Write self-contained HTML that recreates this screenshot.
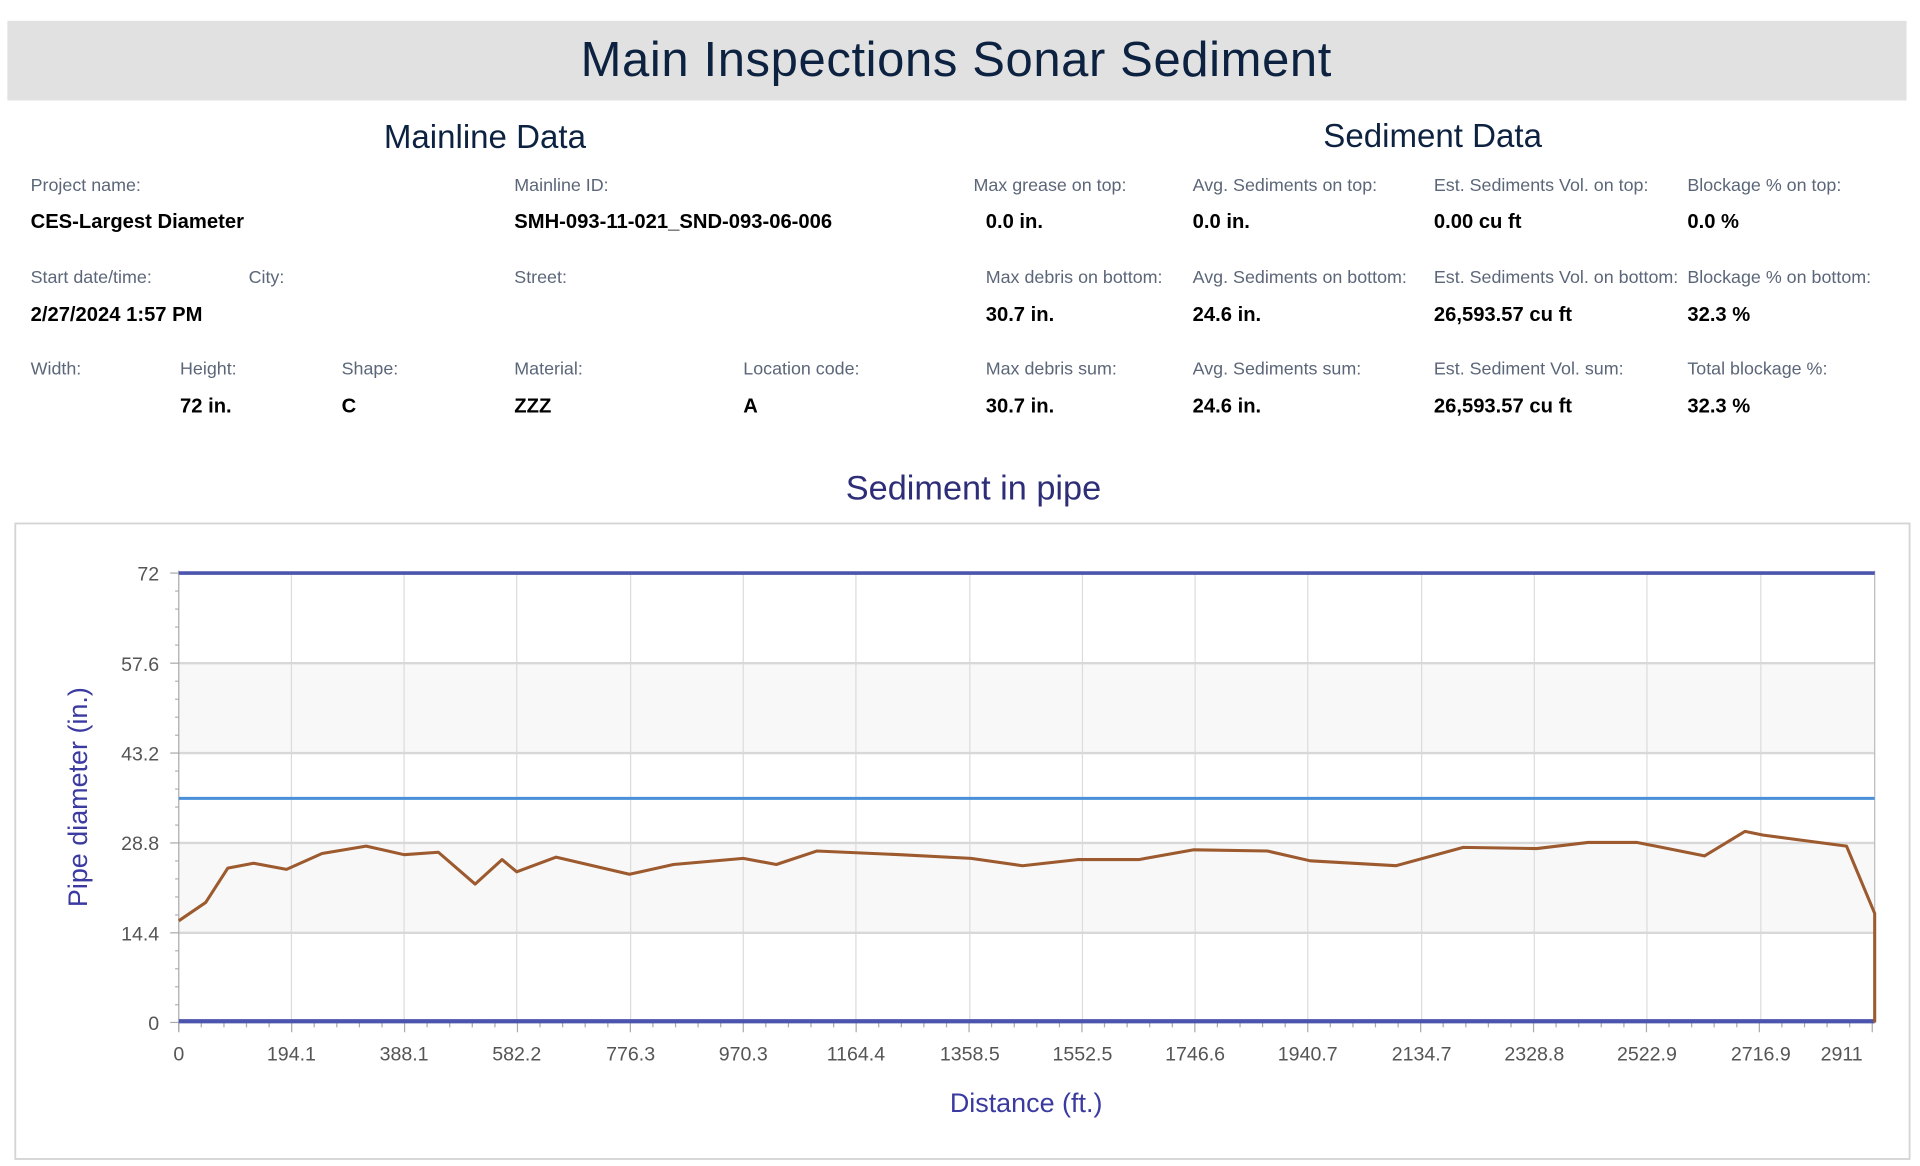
<!DOCTYPE html>
<html><head><meta charset="utf-8"><style>
html,body{margin:0;padding:0;background:#fff;width:1920px;height:1166px;overflow:hidden}
#w{position:absolute;left:0;top:0;width:1568px;height:952px;transform:scale(1.22449);transform-origin:0 0;font-family:"Liberation Sans","DejaVu Sans",sans-serif}
.t{position:absolute;white-space:nowrap}
.l{position:absolute;white-space:nowrap;font-size:14.6px;color:#5b6678}
.v{position:absolute;white-space:nowrap;font-size:16.5px;font-weight:bold;color:#000}
</style></head><body><div id="w">
<div style="position:absolute;left:6px;top:17px;width:1551px;height:65px;background:#e1e1e1"></div>
<div class="t" style="left:0;width:1562px;top:27px;text-align:center;font-size:40px;color:#0d2240;letter-spacing:0.5px">Main Inspections Sonar Sediment</div>
<div class="t" style="left:296px;width:200px;top:97px;text-align:center;font-size:27px;color:#0d2240">Mainline Data</div>
<div class="t" style="left:1070px;width:200px;top:96px;text-align:center;font-size:27px;color:#0d2240">Sediment Data</div>

<div class="l" style="left:25px;top:144px">Project name:</div>
<div class="l" style="left:420px;top:144px">Mainline ID:</div>
<div class="l" style="left:795px;top:144px">Max grease on top:</div>
<div class="l" style="left:974px;top:144px">Avg. Sediments on top:</div>
<div class="l" style="left:1171px;top:144px">Est. Sediments Vol. on top:</div>
<div class="l" style="left:1378px;top:144px">Blockage % on top:</div>
<div class="v" style="left:25px;top:172px">CES-Largest Diameter</div>
<div class="v" style="left:420px;top:172px">SMH-093-11-021_SND-093-06-006</div>
<div class="v" style="left:805px;top:172px">0.0 in.</div>
<div class="v" style="left:974px;top:172px">0.0 in.</div>
<div class="v" style="left:1171px;top:172px">0.00 cu ft</div>
<div class="v" style="left:1378px;top:172px">0.0 %</div>

<div class="l" style="left:25px;top:219px">Start date/time:</div>
<div class="l" style="left:203px;top:219px">City:</div>
<div class="l" style="left:420px;top:219px">Street:</div>
<div class="l" style="left:805px;top:219px">Max debris on bottom:</div>
<div class="l" style="left:974px;top:219px">Avg. Sediments on bottom:</div>
<div class="l" style="left:1171px;top:219px">Est. Sediments Vol. on bottom:</div>
<div class="l" style="left:1378px;top:219px">Blockage % on bottom:</div>
<div class="v" style="left:25px;top:248px">2/27/2024 1:57 PM</div>
<div class="v" style="left:805px;top:248px">30.7 in.</div>
<div class="v" style="left:974px;top:248px">24.6 in.</div>
<div class="v" style="left:1171px;top:248px">26,593.57 cu ft</div>
<div class="v" style="left:1378px;top:248px">32.3 %</div>

<div class="l" style="left:25px;top:294px">Width:</div>
<div class="l" style="left:147px;top:294px">Height:</div>
<div class="l" style="left:279px;top:294px">Shape:</div>
<div class="l" style="left:420px;top:294px">Material:</div>
<div class="l" style="left:607px;top:294px">Location code:</div>
<div class="l" style="left:805px;top:294px">Max debris sum:</div>
<div class="l" style="left:974px;top:294px">Avg. Sediments sum:</div>
<div class="l" style="left:1171px;top:294px">Est. Sediment Vol. sum:</div>
<div class="l" style="left:1378px;top:294px">Total blockage %:</div>
<div class="v" style="left:147px;top:323px">72 in.</div>
<div class="v" style="left:279px;top:323px">C</div>
<div class="v" style="left:420px;top:323px">ZZZ</div>
<div class="v" style="left:607px;top:323px">A</div>
<div class="v" style="left:805px;top:323px">30.7 in.</div>
<div class="v" style="left:974px;top:323px">24.6 in.</div>
<div class="v" style="left:1171px;top:323px">26,593.57 cu ft</div>
<div class="v" style="left:1378px;top:323px">32.3 %</div>

<div class="t" style="left:595px;width:400px;top:383px;text-align:center;font-size:28px;color:#2e2e78">Sediment in pipe</div>

<svg style="position:absolute;left:0;top:0" width="1568" height="952" viewBox="0 0 1568 952" font-family="Liberation Sans, DejaVu Sans, sans-serif">
<rect x="12.5" y="427.5" width="1547" height="519" fill="none" stroke="#d4d4d4" stroke-width="1.5"/>
<rect x="146" y="541.6" width="1385" height="73.4" fill="#f8f8f8"/>
<rect x="146" y="688.4" width="1385" height="73.4" fill="#f8f8f8"/>
<g stroke="#dcdcdc" stroke-width="1">
<line x1="238" y1="468" x2="238" y2="835"/><line x1="330" y1="468" x2="330" y2="835"/><line x1="422" y1="468" x2="422" y2="835"/><line x1="515" y1="468" x2="515" y2="835"/><line x1="607" y1="468" x2="607" y2="835"/><line x1="699" y1="468" x2="699" y2="835"/><line x1="792" y1="468" x2="792" y2="835"/><line x1="884" y1="468" x2="884" y2="835"/><line x1="976" y1="468" x2="976" y2="835"/><line x1="1068" y1="468" x2="1068" y2="835"/><line x1="1161" y1="468" x2="1161" y2="835"/><line x1="1253" y1="468" x2="1253" y2="835"/><line x1="1345" y1="468" x2="1345" y2="835"/><line x1="1438" y1="468" x2="1438" y2="835"/>
</g>
<g stroke="#d8d8d8" stroke-width="2">
<line x1="146" y1="541.6" x2="1531" y2="541.6"/><line x1="146" y1="615" x2="1531" y2="615"/><line x1="146" y1="688.4" x2="1531" y2="688.4"/><line x1="146" y1="761.8" x2="1531" y2="761.8"/>
</g>
<line x1="146" y1="466" x2="146" y2="842" stroke="#aaa" stroke-width="1"/>
<line x1="1531" y1="466" x2="1531" y2="835" stroke="#bbb" stroke-width="1"/>
<g stroke="#aaa" stroke-width="1">
<line x1="139" y1="468" x2="146" y2="468"/><line x1="139" y1="541.6" x2="146" y2="541.6"/><line x1="139" y1="615" x2="146" y2="615"/><line x1="139" y1="688.4" x2="146" y2="688.4"/><line x1="139" y1="761.8" x2="146" y2="761.8"/><line x1="139" y1="835" x2="146" y2="835"/>
<path d="M143 482.7h3M143 497.4h3M143 512.1h3M143 526.8h3M143 556.3h3M143 571h3M143 585.7h3M143 600.4h3M143 629.7h3M143 644.4h3M143 659.1h3M143 673.8h3M143 703.1h3M143 717.8h3M143 732.5h3M143 747.2h3M143 776.5h3M143 791.2h3M143 805.9h3M143 820.6h3"/>
</g>
<g stroke="#aaa" stroke-width="1" id="xt"></g>
<line x1="146" y1="468" x2="1531" y2="468" stroke="#4b55ad" stroke-width="3"/>
<line x1="146" y1="834" x2="1531" y2="834" stroke="#4b55ad" stroke-width="3.5"/>
<line x1="146" y1="652" x2="1531" y2="652" stroke="#4a90d8" stroke-width="2.5"/>
<polyline fill="none" stroke="#9c5a2e" stroke-width="2.5" stroke-linejoin="round" points="146,752 168,737 186,709 207,705 234,710 263,697 299,691 330,698 358,696 388,722 410,702 422,712 454,700 514,714 550,706 607,701 634,706 667,695 735,698 793,701 835,707 880,702 930,702 975,694 1035,695 1070,703 1140,707 1195,692 1255,693 1297,688 1337,688 1392,699 1425,679 1440,682 1470,686 1508,691 1531,746 1531,835"/>
<g font-size="16" fill="#555" text-anchor="end">
<text x="130" y="474">72</text><text x="130" y="548">57.6</text><text x="130" y="621">43.2</text><text x="130" y="694">28.8</text><text x="130" y="768">14.4</text><text x="130" y="841">0</text>
</g>
<g font-size="16" fill="#555" text-anchor="middle">
<text x="146" y="866">0</text><text x="238" y="866">194.1</text><text x="330" y="866">388.1</text><text x="422" y="866">582.2</text><text x="515" y="866">776.3</text><text x="607" y="866">970.3</text><text x="699" y="866">1164.4</text><text x="792" y="866">1358.5</text><text x="884" y="866">1552.5</text><text x="976" y="866">1746.6</text><text x="1068" y="866">1940.7</text><text x="1161" y="866">2134.7</text><text x="1253" y="866">2328.8</text><text x="1345" y="866">2522.9</text><text x="1438" y="866">2716.9</text><text x="1504" y="866">2911</text>
</g>
<text x="838" y="908" font-size="22" fill="#3a3aa0" text-anchor="middle">Distance (ft.)</text>
<text transform="translate(71,651) rotate(-90)" font-size="22" fill="#3a3aa0" text-anchor="middle">Pipe diameter (in.)</text>
<script>
var g=document.getElementById('xt'),s='';
for(var i=0;i<=75;i++){var x=146+i*18.44;if(x>1532)break;var L=(i%5==0)?8:4;s+='M'+x.toFixed(1)+' 835v'+L;}
var p=document.createElementNS('http://www.w3.org/2000/svg','path');p.setAttribute('d',s);g.appendChild(p);
</script>
</svg>
</div></body></html>
